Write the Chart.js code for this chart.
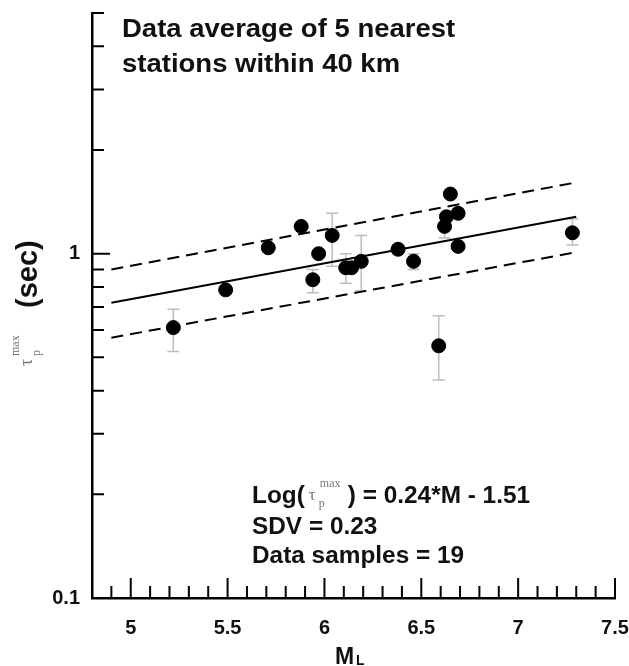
<!DOCTYPE html>
<html>
<head>
<meta charset="utf-8">
<script src="https://cdn.jsdelivr.net/npm/chart.js@4"></script>
<style>
  body { margin: 0; background: #fff; }
  #wrap { width: 629px; height: 666px; }
</style>
</head>
<body>
<div id="wrap"><canvas id="tauChart" width="629" height="666"></canvas></div>
<script>
// magnitudes and averaged tau_p max (sec)
const magnitudes = [5.22, 5.49, 5.71, 5.88, 5.94, 5.97, 6.04, 6.11, 6.14, 6.19, 6.38, 6.46, 6.59, 6.62, 6.63, 6.65, 6.69, 6.69, 7.28];
const tauValues  = [0.61, 0.785, 1.04, 1.2, 0.84, 1.0, 1.13, 0.91, 0.91, 0.95, 1.03, 0.95, 0.54, 1.2, 1.28, 1.49, 1.31, 1.05, 1.15];
const errLow     = [0.52, null, null, null, 0.77, null, 0.92, 0.82, null, 0.78, null, 0.90, 0.43, 1.11, null, null, null, null, 1.06];
const errHigh    = [0.69, null, null, null, 0.90, null, 1.31, 1.00, null, 1.13, null, 1.00, 0.66, 1.30, null, null, null, null, 1.26];

// regression line and +/- SDV band
const lineMag   = [4.9, 7.3];
const fitLine   = [0.72, 1.28];
const upperBand = [0.90, 1.61];
const lowerBand = [0.57, 1.01];

// tick positions
const xMajorTicks = [5, 5.5, 6, 6.5, 7, 7.5];
const xMinorTicks = [4.9, 5.1, 5.2, 5.3, 5.4, 5.6, 5.7, 5.8, 5.9, 6.1, 6.2, 6.3, 6.4, 6.6, 6.7, 6.8, 6.9, 7.1, 7.2, 7.3, 7.4];
const yMajorTicks = [0.1, 1];
const yMinorTicks = [0.2, 0.3, 0.4, 0.5, 0.6, 0.7, 0.8, 0.9, 2, 3, 4, 5];

const FONT = '"Liberation Sans", Arial, sans-serif';

const pts = magnitudes.map((m, i) => ({ x: m, y: tauValues[i] }));
const toXY = ys => lineMag.map((m, i) => ({ x: m, y: ys[i] }));

// error bars behind the dots
const errorBars = {
  id: 'errorBars',
  beforeDatasetsDraw(chart) {
    const { ctx, scales: { x, y } } = chart;
    ctx.save();
    ctx.strokeStyle = '#bdbdbd';
    ctx.lineWidth = 1.5;
    magnitudes.forEach((m, i) => {
      if (errLow[i] == null) return;
      const px = x.getPixelForValue(m);
      const y1 = y.getPixelForValue(errLow[i]);
      const y2 = y.getPixelForValue(errHigh[i]);
      ctx.beginPath();
      ctx.moveTo(px, y1); ctx.lineTo(px, y2);
      ctx.moveTo(px - 6, y1); ctx.lineTo(px + 6, y1);
      ctx.moveTo(px - 6, y2); ctx.lineTo(px + 6, y2);
      ctx.stroke();
    });
    ctx.restore();
  }
};

// draws text stretched a bit wider, like the scanned figure
function wideText(ctx, txt, x, y, sx) {
  ctx.save();
  ctx.translate(x, y);
  ctx.scale(sx, 1);
  ctx.fillText(txt, 0, 0);
  ctx.restore();
  return ctx.measureText(txt).width * sx;
}

// inward tick marks + texts
const decorations = {
  id: 'decorations',
  afterDraw(chart) {
    const { ctx, scales: { x, y } } = chart;
    const bottom = y.bottom, left = x.left;
    ctx.save();
    ctx.strokeStyle = '#000';
    ctx.lineWidth = 2;
    ctx.beginPath();
    xMajorTicks.forEach(v => { const p = x.getPixelForValue(v); ctx.moveTo(p, bottom); ctx.lineTo(p, bottom - 20); });
    xMinorTicks.forEach(v => { const p = x.getPixelForValue(v); ctx.moveTo(p, bottom); ctx.lineTo(p, bottom - 12); });
    yMajorTicks.forEach(v => { const p = y.getPixelForValue(v); ctx.moveTo(left, p); ctx.lineTo(left + 18, p); });
    yMinorTicks.forEach(v => { const p = y.getPixelForValue(v); ctx.moveTo(left, p); ctx.lineTo(left + 12, p); });
    ctx.stroke();

    ctx.fillStyle = '#111';
    ctx.textAlign = 'left';
    ctx.textBaseline = 'alphabetic';

    // header
    ctx.font = 'bold 25px ' + FONT;
    wideText(ctx, 'Data average of 5 nearest', 122, 37, 1.1);
    wideText(ctx, 'stations within 40 km', 122, 72, 1.1);

    // fit info
    ctx.font = 'bold 23px ' + FONT;
    let cx = 252;
    cx += wideText(ctx, 'Log(', cx, 503, 1.06) + 4;
    ctx.fillStyle = '#777';
    ctx.font = '17px "Liberation Serif", serif';
    ctx.fillText('\u03c4', cx, 500);
    ctx.font = '12px "Liberation Serif", serif';
    ctx.fillText('p', cx + 10, 507);
    ctx.fillText('max', cx + 11, 487);
    cx += 39;
    ctx.fillStyle = '#111';
    ctx.font = 'bold 23px ' + FONT;
    wideText(ctx, ') = 0.24*M - 1.51', cx, 503, 1.06);
    wideText(ctx, 'SDV = 0.23', 252, 534, 1.06);
    wideText(ctx, 'Data samples = 19', 252, 563, 1.06);

    // x axis title M_L
    ctx.font = 'bold 23px ' + FONT;
    ctx.fillText('M', 335, 664);
    ctx.font = 'bold 14px ' + FONT;
    ctx.fillText('L', 356, 665);

    // y axis title (rotated)
    ctx.translate(37, 366);
    ctx.rotate(-Math.PI / 2);
    ctx.fillStyle = '#777';
    ctx.font = '18px "Liberation Serif", serif';
    ctx.fillText('\u03c4', 0, -5);
    ctx.font = '12px "Liberation Serif", serif';
    ctx.fillText('max', 10, -18);
    ctx.fillText('p', 10, 3);
    ctx.fillStyle = '#111';
    ctx.font = 'bold 29px ' + FONT;
    ctx.fillText('(sec)', 58, 0);
    ctx.restore();
  }
};

new Chart(document.getElementById('tauChart'), {
  type: 'scatter',
  data: {
    datasets: [
      {
        label: 'data',
        data: pts,
        backgroundColor: '#000',
        borderColor: '#000',
        pointRadius: 7,
        pointHoverRadius: 7
      },
      {
        label: 'fit',
        data: toXY(fitLine),
        showLine: true,
        borderColor: '#000',
        borderWidth: 2,
        pointRadius: 0
      },
      {
        label: 'upper',
        data: toXY(upperBand),
        showLine: true,
        borderColor: '#000',
        borderWidth: 2,
        borderDash: [12, 7],
        pointRadius: 0
      },
      {
        label: 'lower',
        data: toXY(lowerBand),
        showLine: true,
        borderColor: '#000',
        borderWidth: 2,
        borderDash: [12, 7],
        pointRadius: 0
      }
    ]
  },
  options: {
    responsive: false,
    animation: false,
    layout: { padding: { top: 13, right: 14, left: 0, bottom: 0 } },
    plugins: {
      legend: { display: false },
      tooltip: { enabled: false }
    },
    scales: {
      x: {
        type: 'linear',
        min: 4.8,
        max: 7.5,
        grid: { display: false },
        border: { display: true, color: '#000', width: 2.5 },
        afterFit: s => { s.height = 68; s.paddingLeft = 0; s.paddingRight = 0; },
        afterBuildTicks: s => { s.ticks = xMajorTicks.map(v => ({ value: v })); },
        ticks: {
          color: '#111',
          padding: 10,
          maxRotation: 0,
          font: { family: FONT, size: 20, weight: 'bold' },
          callback: v => String(v)
        }
      },
      y: {
        type: 'logarithmic',
        min: 0.1,
        max: 5,
        grid: { display: false },
        border: { display: true, color: '#000', width: 2.5 },
        afterFit: s => { s.width = 92; s.paddingTop = 0; s.paddingBottom = 0; },
        afterBuildTicks: s => { s.ticks = yMajorTicks.map(v => ({ value: v })); },
        ticks: {
          color: '#111',
          padding: 4,
          font: { family: FONT, size: 20, weight: 'bold' },
          callback: v => String(v)
        }
      }
    }
  },
  plugins: [errorBars, decorations]
});
</script>
</body>
</html>
